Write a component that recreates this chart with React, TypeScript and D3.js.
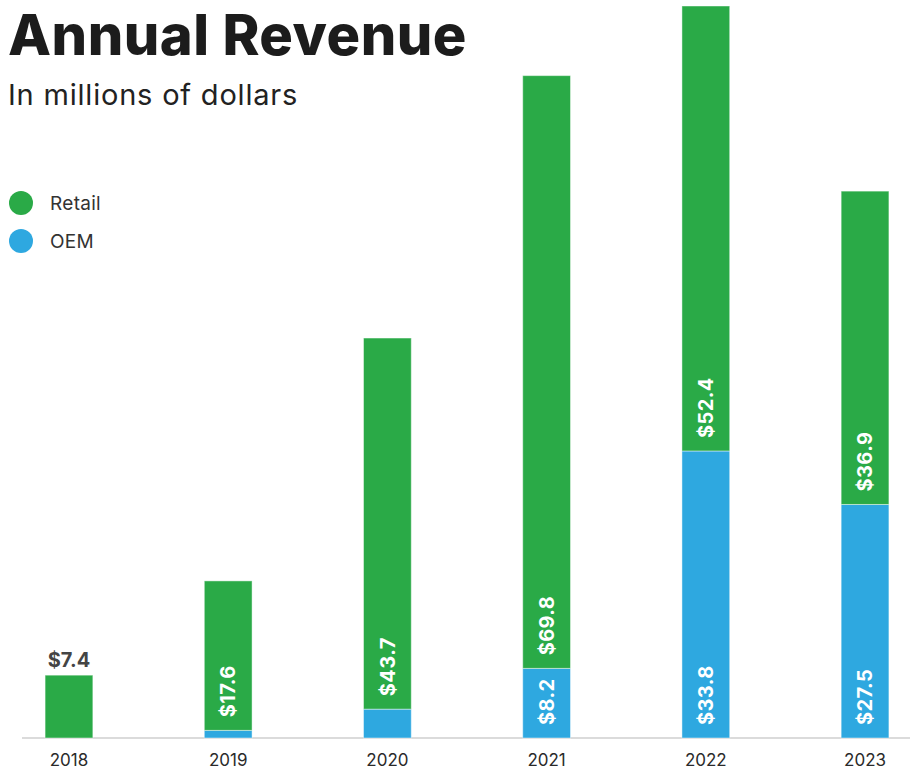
import React, { useEffect, useRef } from 'react'
import * as d3 from 'd3'

const years = ['2018', '2019', '2020', '2021', '2022', '2023']
const retail = [7.4, 17.6, 43.7, 69.8, 52.4, 36.9]
const oem = [0, 0.9, 3.4, 8.2, 33.8, 27.5]
// which segments carry a value label inside the bar
const retailLabeled = [false, true, true, true, true, true]
const oemLabeled = [false, false, false, true, true, true]

const GREEN = '#2aaa47'
const BLUE = '#2ea8e0'
const FONT = 'Inter, "Noto Sans", sans-serif'

export default function App() {
  const svgRef = useRef<SVGSVGElement>(null)

  useEffect(() => {
    const width = 910, height = 770
    const svg = d3.select(svgRef.current)
      .attr('width', width)
      .attr('height', height)
      .attr('viewBox', `0 0 ${width} ${height}`)
    svg.selectAll('*').remove()

    const rows = years.map((y, i) => ({ year: y, retail: retail[i], oem: oem[i], i }))
    const maxTotal = d3.max(rows, d => d.retail + d.oem) || 1

    const x = d3.scaleBand().domain(years).range([22, 912]).paddingInner(0.7).paddingOuter(0.145)
    const y = d3.scaleLinear().domain([0, maxTotal]).range([738, 6])

    // title
    svg.append('text')
      .attr('x', 8).attr('y', 55)
      .attr('font-family', FONT).attr('font-weight', 800)
      .attr('font-size', 56).attr('fill', '#1c1c1c')
      .attr('letter-spacing', 0.5)
      .text('Annual Revenue')
    svg.append('text')
      .attr('x', 8).attr('y', 105)
      .attr('font-family', FONT).attr('font-weight', 400)
      .attr('font-size', 29).attr('fill', '#222')
      .attr('letter-spacing', 0.8)
      .text('In millions of dollars')

    // legend
    const legend = [{ k: 'Retail', c: GREEN }, { k: 'OEM', c: BLUE }]
    const lg = svg.append('g').selectAll('g').data(legend).join('g')
      .attr('transform', (d, i) => `translate(21,${203 + i * 38})`)
    lg.append('circle').attr('r', 12).attr('fill', d => d.c)
    lg.append('text')
      .attr('x', 29).attr('dy', '0.35em')
      .attr('font-family', FONT).attr('font-size', 19).attr('fill', '#333')
      .attr('letter-spacing', 0.3)
      .text(d => d.k)

    // axis baseline
    svg.append('line')
      .attr('x1', 22).attr('x2', 912)
      .attr('y1', y(0)).attr('y2', y(0))
      .attr('stroke', '#cfcfcf').attr('stroke-width', 1.5)

    const bars = svg.append('g')
    // OEM (bottom)
    bars.selectAll('rect.oem').data(rows.filter(d => d.oem > 0)).join('rect')
      .attr('class', 'oem')
      .attr('x', d => x(d.year)!)
      .attr('width', x.bandwidth())
      .attr('y', d => y(d.oem))
      .attr('height', d => y(0) - y(d.oem))
      .attr('fill', BLUE)
      .attr('stroke', '#ffffff').attr('stroke-opacity', 0.45).attr('stroke-width', 1)
    // Retail (stacked on top)
    bars.selectAll('rect.retail').data(rows).join('rect')
      .attr('class', 'retail')
      .attr('x', d => x(d.year)!)
      .attr('width', x.bandwidth())
      .attr('y', d => y(d.oem + d.retail))
      .attr('height', d => y(d.oem) - y(d.oem + d.retail))
      .attr('fill', GREEN)
      .attr('stroke', '#ffffff').attr('stroke-opacity', 0.45).attr('stroke-width', 1)

    const fmt = (v: number) => '$' + d3.format('.1f')(v)
    const pad = 13

    // rotated labels inside segments
    const addRot = (data: typeof rows, val: (d: typeof rows[0]) => number, base: (d: typeof rows[0]) => number) => {
      bars.append('g').selectAll('text').data(data).join('text')
        .attr('transform', d => `translate(${x(d.year)! + x.bandwidth() / 2},${y(base(d)) - pad}) rotate(-90)`)
        .attr('dy', '0.36em')
        .attr('font-family', FONT).attr('font-weight', 700)
        .attr('font-size', 20).attr('fill', '#fff')
        .attr('letter-spacing', 0.4)
        .text(d => fmt(val(d)))
    }
    addRot(rows.filter(d => oemLabeled[d.i]), d => d.oem, () => 0)
    addRot(rows.filter(d => retailLabeled[d.i]), d => d.retail, d => d.oem)

    // label above the unlabeled bar
    bars.append('g').selectAll('text').data(rows.filter(d => !retailLabeled[d.i])).join('text')
      .attr('x', d => x(d.year)! + x.bandwidth() / 2)
      .attr('y', d => y(d.oem + d.retail) - 8)
      .attr('text-anchor', 'middle')
      .attr('font-family', FONT).attr('font-weight', 700)
      .attr('font-size', 20).attr('fill', '#444')
      .text(d => fmt(d.retail))

    // year labels
    svg.append('g').selectAll('text').data(years).join('text')
      .attr('x', d => x(d)! + x.bandwidth() / 2)
      .attr('y', 766)
      .attr('text-anchor', 'middle')
      .attr('font-family', FONT).attr('font-size', 17).attr('fill', '#2a2a2a')
      .text(d => d)
  }, [])

  return (
    <div style={{ position: 'absolute', left: 0, top: 0, background: '#fff' }}>
      <svg ref={svgRef} style={{ display: 'block' }}></svg>
    </div>
  )
}
